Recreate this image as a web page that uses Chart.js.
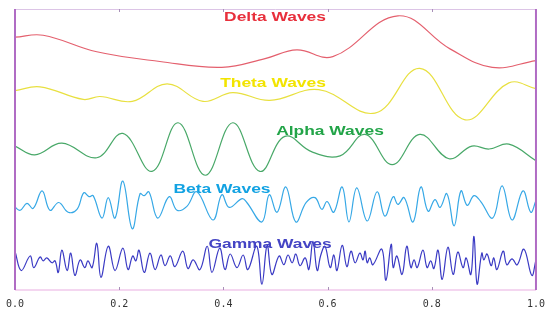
<!DOCTYPE html>
<html>
<head>
<meta charset="utf-8">
<script src="https://cdn.jsdelivr.net/npm/chart.js@4"></script>
<style>
  html, body { margin: 0; padding: 0; background: #fff; }
  #wrap { width: 545px; height: 310px; }
</style>
</head>
<body>
<div id="wrap"><canvas id="canvas-ondas"></canvas></div>
<script>
// ondas cerebrales, tiempo en segundos (0..1) y amplitud
var nombres = ["Delta Waves", "Theta Waves", "Alpha Waves", "Beta Waves", "Gamma Waves"];
var xTicks = [0, 0.2, 0.4, 0.6, 0.8, 1.0];

var deltaT = [0, 0.054, 0.157, 0.278, 0.397, 0.480, 0.541, 0.610, 0.735, 0.835, 0.916, 1.0];
var deltaV = [260, 262, 245, 235, 229, 238, 247, 240, 282, 248, 229, 236];

var thetaT = [0, 0.048, 0.131, 0.163, 0.225, 0.292, 0.361, 0.418, 0.489, 0.583, 0.691, 0.777, 0.864, 0.948, 1.0];
var thetaV = [205, 209, 196, 199, 194, 212, 194, 203, 195, 206, 182, 228, 175, 213, 207];

var alphaT = [0, 0.038, 0.090, 0.157, 0.207, 0.263, 0.313, 0.365, 0.418, 0.470, 0.518, 0.570, 0.624, 0.672, 0.724, 0.777, 0.833, 0.877, 0.910, 0.948, 1.0];
var alphaV = [148, 139, 151, 136, 161, 122, 172, 118, 172, 122, 158, 142, 138, 160, 129, 160, 135, 148, 145, 150, 133];

var betaT = [0, 0.010, 0.023, 0.035, 0.052, 0.067, 0.084, 0.102, 0.119, 0.132, 0.142, 0.150, 0.167, 0.179, 0.192,
    0.207, 0.225, 0.240, 0.248, 0.257, 0.274, 0.296, 0.311, 0.330, 0.349, 0.380, 0.397, 0.411, 0.436, 0.445,
    0.474, 0.488, 0.503, 0.520, 0.539, 0.559, 0.576, 0.589, 0.599, 0.612, 0.628, 0.641, 0.656, 0.676, 0.695,
    0.710, 0.726, 0.735, 0.747, 0.764, 0.779, 0.793, 0.806, 0.816, 0.829, 0.843, 0.856, 0.868, 0.881, 0.894,
    0.917, 0.935, 0.954, 0.975, 0.990, 1.0];
var betaV = [85, 82, 89, 84, 102, 82, 90, 80, 83, 100, 96, 97, 74, 95, 74,
    112, 63, 99, 97, 101, 74, 96, 82, 86, 101, 72, 98, 85, 94, 90,
    70, 98, 80, 106, 70, 90, 95, 83, 91, 80, 106, 70, 105, 71, 101,
    76, 96, 88, 95, 70, 106, 81, 93, 85, 99, 66, 102, 87, 97, 91,
    74, 107, 72, 102, 80, 92];

var gammaT = [0, 0.012, 0.029, 0.036, 0.048, 0.054, 0.061, 0.071, 0.077, 0.083, 0.090, 0.100, 0.107, 0.115,
    0.125, 0.134, 0.140, 0.148, 0.157, 0.165, 0.179, 0.192, 0.207, 0.217, 0.226, 0.232, 0.238, 0.248, 0.259,
    0.269, 0.280, 0.288, 0.298, 0.307, 0.322, 0.332, 0.342, 0.355, 0.369, 0.378, 0.393, 0.403, 0.413, 0.426,
    0.438, 0.447, 0.464, 0.474, 0.484, 0.493, 0.507, 0.516, 0.524, 0.532, 0.539, 0.547, 0.557, 0.564, 0.572,
    0.580, 0.587, 0.595, 0.605, 0.612, 0.618, 0.628, 0.637, 0.645, 0.653, 0.662, 0.668, 0.672, 0.676, 0.681,
    0.687, 0.704, 0.712, 0.722, 0.726, 0.733, 0.743, 0.752, 0.760, 0.766, 0.772, 0.783, 0.791, 0.798, 0.804,
    0.812, 0.820, 0.831, 0.841, 0.850, 0.860, 0.866, 0.875, 0.881, 0.887, 0.896, 0.900, 0.906, 0.914, 0.919,
    0.925, 0.937, 0.944, 0.954, 0.964, 0.977, 0.992, 1.0];
var gammaV = [40, 20, 35, 23, 34, 30, 33, 28, 30, 18, 41, 20, 38, 15,
    31, 23, 30, 23, 48, 13, 45, 20, 43, 21, 35, 30, 41, 18, 38,
    21, 36, 25, 35, 24, 40, 22, 31, 21, 45, 18, 43, 21, 37, 23,
    36, 21, 45, 6, 46, 16, 35, 26, 36, 28, 37, 25, 33, 21, 50,
    20, 36, 45, 23, 36, 20, 46, 24, 40, 28, 38, 31, 40, 28, 33,
    26, 42, 10, 47, 23, 35, 16, 45, 23, 31, 23, 41, 23, 30, 22,
    41, 11, 44, 16, 39, 23, 33, 16, 55, 6, 38, 31, 37, 25, 33,
    21, 40, 26, 32, 26, 42, 15, 31];

var tiempos = [deltaT, thetaT, alphaT, betaT, gammaT];
var valores = [deltaV, thetaV, alphaV, betaV, gammaV];
var coloresLinea = ["#e4606e", "#e8e040", "#48a868", "#36a8e6", "#3a3ac4"];
var coloresTexto = ["#e8303c", "#f2e400", "#22a448", "#12a2e2", "#4444c4"];
// centro de cada titulo en pixeles
var posTitulos = [[275, 18], [273, 84], [330, 132], [222, 190], [270, 245]];

function armarPuntos(t, v) {
    var pts = [];
    for (var i = 0; i < t.length; i++) pts.push({ x: t[i], y: v[i] });
    return pts;
}

var datasets = [];
nombres.forEach((nombre, i) => {
    datasets.push({
        label: nombre,
        data: armarPuntos(tiempos[i], valores[i]),
        borderColor: coloresLinea[i],
        borderWidth: 1.2,
        pointRadius: 0,
        fill: false,
        tension: 0.4,
    });
});

var marcoYTitulos = {
    id: "marcoYTitulos",
    afterDraw(chart) {
        var ctx = chart.ctx;
        var a = chart.chartArea;
        var xs = chart.scales.x;
        ctx.save();
        // bordes
        ctx.lineWidth = 1;
        ctx.strokeStyle = "#dcc4e6";
        ctx.beginPath(); ctx.moveTo(a.left, a.top + 0.5); ctx.lineTo(a.right, a.top + 0.5); ctx.stroke();
        ctx.lineWidth = 2;
        ctx.strokeStyle = "#f4d6f0";
        ctx.beginPath(); ctx.moveTo(a.left, a.bottom); ctx.lineTo(a.right, a.bottom); ctx.stroke();
        ctx.strokeStyle = "#b06cc4";
        ctx.beginPath(); ctx.moveTo(a.left, a.top); ctx.lineTo(a.left, a.bottom); ctx.stroke();
        ctx.beginPath(); ctx.moveTo(a.right, a.top); ctx.lineTo(a.right, a.bottom); ctx.stroke();
        // marcas pequeñas
        ctx.lineWidth = 1;
        ctx.strokeStyle = "#a890b8";
        xTicks.slice(1, -1).forEach((t) => {
            var px = Math.round(xs.getPixelForValue(t)) + 0.5;
            ctx.beginPath(); ctx.moveTo(px, a.top); ctx.lineTo(px, a.top + 3); ctx.stroke();
            ctx.beginPath(); ctx.moveTo(px, a.bottom - 3); ctx.lineTo(px, a.bottom); ctx.stroke();
        });
        // titulos
        ctx.font = "bold 12px 'Liberation Sans', Arial, sans-serif";
        ctx.textAlign = "center";
        ctx.textBaseline = "middle";
        nombres.forEach((nombre, i) => {
            ctx.save();
            ctx.translate(posTitulos[i][0], posTitulos[i][1]);
            ctx.scale(1.45, 1);
            ctx.fillStyle = coloresTexto[i];
            ctx.fillText(nombre, 0, 0);
            ctx.restore();
        });
        ctx.restore();
    },
};

var contexto = document.getElementById("canvas-ondas").getContext("2d");
var chartOndas = new Chart(contexto, {
    type: "line",
    data: { datasets: datasets },
    plugins: [marcoYTitulos],
    options: {
        responsive: true,
        maintainAspectRatio: false,
        animation: false,
        layout: { padding: { left: 15, right: 9, top: 9, bottom: 0 } },
        plugins: { legend: { display: false }, tooltip: { enabled: false } },
        scales: {
            x: {
                type: "linear",
                min: 0,
                max: 1,
                afterBuildTicks: (axis) => { axis.ticks = xTicks.map((v) => ({ value: v })); },
                grid: { display: false },
                border: { display: false },
                ticks: {
                    padding: 0,
                    maxRotation: 0,
                    color: "#333",
                    font: { family: "'DejaVu Sans Mono', monospace", size: 10 },
                    callback: (v) => Number(v).toFixed(1),
                },
            },
            y: {
                display: false,
                min: 0,
                max: 289,
            },
        },
    },
});
</script>
</body>
</html>
